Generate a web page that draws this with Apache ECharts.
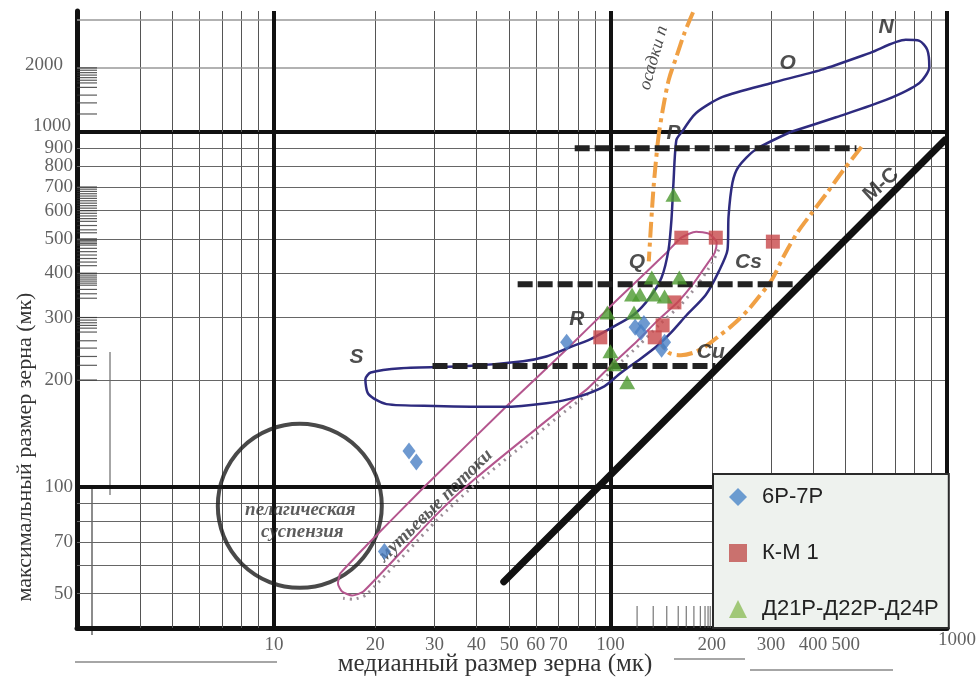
<!DOCTYPE html>
<html><head><meta charset="utf-8">
<script src="https://cdn.jsdelivr.net/npm/echarts@6/dist/echarts.min.js"></script>
<style>html,body{margin:0;padding:0;background:#fff}#c{width:977px;height:682px}</style>
</head><body><div id="c"></div><script>
// ---------- axis ranges ----------
const X_MIN = 2.6, X_MAX = 1000;
const Y_MIN = 40, Y_MAX = 1000, YT_MAX = 3700;

// ---------- tick labels ----------
const xTickLabels = [10, 20, 30, 40, 50, 60, 70, 100, 200, 300, 400, 500, 1000];
const yTickLabelsMain = [1000, 900, 800, 700, 600, 500, 400, 300, 200, 100, 70, 50];
const yTickLabelsTop = [2000];

// ---------- grid lines ----------
const xGridThin = [4, 5, 6, 7, 8, 9, 20, 30, 40, 50, 60, 70, 80, 90, 200, 300, 400, 500, 600, 700, 800, 900];
const xGridThick = [10, 100, 1000];
const yGridThinMain = [50, 60, 70, 80, 90, 200, 300, 400, 500, 600, 700, 800, 900];
const yGridThickMain = [100, 1000];
const yGridThinTop = [2000, 3350];

// ruler-like tick marks of the scanned paper
const rulerYMain = [700,690,680,670,660,650,640,630,620,610,600,590,580,570,560,545,530,520,500,495,490,485,480,470,460,450,440,430,420,400,395,390,385,380,375,370,360,350,340,300,295,290,285,280,273,258,246,233,220,200];
const rulerYTop = [2000,1950,1900,1850,1800,1750,1700,1620,1490,1370,1215];
const rulerXBottom = [120,134,147,159,168,177,185,191,195,198];

// ---------- sample points ----------
const pts6P7P = [[74.1,255.5],[25.2,126.2],[26.5,117.5],[21.3,65.7],[118.4,281.5],[125.7,288.8],[123.2,272.5],[144.8,255.5],[141.9,244.1]];
const ptsKM1 = [[93.3,263.8],[162.4,503.7],[205.6,503.7],[303.8,490.9],[154.9,330.9],[142.9,285.1],[135.4,263.8]];
const ptsD21 = [[153.9,665],[97.9,310],[117.5,310],[115.9,348.4],[122.4,348.4],[132.7,388.9],[134.5,348.4],[144.8,344],[160.2,388.9],[100,241],[102.7,221.6],[112.1,197.2]];

// ---------- field outlines ----------
const blueLoopMain = [[163.1,1000],[157.0,949.5],[153.9,719],[151.8,566],[148.8,466],[141.9,388.9],[130.9,341.8],[117.5,306],[101.3,281.5],[87.0,260.4],[75.7,247.4],[64.5,233],[55.0,226],[37.8,219],[23.9,216],[19.4,210],[18.7,201],[19.1,182.5],[21.6,171],[30.0,169],[47.8,168],[64.5,172],[79.5,179],[95.9,192],[107.0,209],[122.4,229],[137.3,249],[151.8,273],[168.0,304],[192.1,348],[209.7,404],[222.8,466],[224.3,577],[230.4,719],[239.9,797],[269.1,890],[342.8,1000]];
const blueLoopTop = [[163.1,1000],[179.7,1228],[215.4,1461],[301.6,1700],[422.5,1957],[591.4,2353],[753.9,2709],[828.2,2680],[873.9,2430],[886,2022],[828.2,1700],[658.6,1414],[470.5,1176],[342.8,1000]];
const orangeLeftTop = [[176,3650],[166,2922],[157,2253],[149,1757],[143,1269],[139.5,1000]];
const orangeLeftMain = [[139.5,1000],[138,919],[134.5,710],[132,548],[130,432]];
const orangeRight = [[557,908],[493,782],[440,674],[397,592],[359,520],[329,451],[302,384],[278,346],[257,316],[232,287],[210,266],[192,249],[177,239],[162,235],[150,238],[142,251]];
const dash900 = [[78.3,900],[538,900]];
const dash372 = [[53,372],[359,372]];
const dash219 = [[29.6,219],[205,219]];
const lineMC = [[48.2,54],[986,950]];
const pinkBand = [[15.72,56.95],[18.83,68.3],[28.0,100],[49.9,171.1],[74.1,244.1],[102.7,330.9],[128.3,404.3],[146.8,457.2],[162.4,503.7],[179.7,523.7],[196.1,517],[206.9,487.8],[204.2,457.2],[196.1,431.4],[177.2,376.5],[159.1,333],[137.3,292.6],[119.9,257.1],[101.3,221.6],[85.2,188.5],[72.6,168],[39.6,105.3],[30.0,82.4],[18.45,50.7],[17.08,49.4],[15.94,50.7],[15.50,53.4],[15.72,56.95]];
const pinkDots = [[209.7,466],[200.1,425.9],[180.9,369.3],[162.4,326.6],[140.0,287],[122.4,252.2],[103.4,217.3],[87.0,184.9],[74.1,164.5],[40.5,103.3],[30.6,80.8],[18.83,49.7],[17.2,48.2],[16.05,48.5]];
const pelagicCircle = [[11.94, 88.4]];

// ---------- annotations ----------
const lettersMain = [['P',153.9,994],['Q',119.9,428.6],['R',79.5,296],['S',17.6,232],['Cs',257,428.6],['Cu',198.7,239]];
const lettersTop = [['N',659,3118],['O',336,2112]];
const labelMC = ['M-C', 637, 710];
const labelTurb = ['мутьевые потоки', 30.2, 88.4];
const labelPel1 = ['пелагическая', 11.98, 86.2];
const labelPel2 = ['суспензия', 12.15, 74.7];
const labelOsad = ['осадки п', 134.5, 2228];

// ---------- helpers ----------
const SERIF = 'Liberation Serif', SANS = 'Liberation Sans';
const thin = {color:'#555', width:1, type:'solid'};
const thinH = {color:'#666', width:1, type:'solid'};
const thinTop = {color:'#999', width:1.5, type:'solid'};
const thick = {color:'#111', width:4, type:'solid'};

function gridSeries(g, xs, xsStyle, ys, ysStyle, extraX, extraXStyle, extraY, extraYStyle){
  const d = [];
  xs.forEach(v=>d.push({xAxis:v, lineStyle:xsStyle}));
  ys.forEach(v=>d.push({yAxis:v, lineStyle:ysStyle}));
  (extraX||[]).forEach(v=>d.push({xAxis:v, lineStyle:extraXStyle}));
  (extraY||[]).forEach(v=>d.push({yAxis:v, lineStyle:extraYStyle}));
  return {type:'line', xAxisIndex:g, yAxisIndex:g, data:[], silent:true, z:1,
    markLine:{silent:true, z:1, symbol:['none','none'], label:{show:false}, animation:false,
      lineStyle:{type:'solid'}, data:d}};
}
function shape(g, data, style, smooth, z){
  return {type:'line', xAxisIndex:g, yAxisIndex:g, data, showSymbol:false, symbol:'none',
    smooth: smooth||false, lineStyle: style, silent:true, z: z||4, clip:false};
}
function texts(g, items, lbl){
  return {type:'scatter', xAxisIndex:g, yAxisIndex:g, symbolSize:0, silent:true, clip:false, z:9,
    data: items.map(it=>({name:it[0], value:[it[1], it[2]]})),
    label: Object.assign({show:true, position:'inside', formatter:'{b}'}, lbl)};
}
const tickLbl = {fontFamily:SERIF, fontSize:19, color:'#3a3a3a'};

const series = [
  // grids
  gridSeries(0, xGridThin, thin, yGridThinMain, thinH, xGridThick, thick, yGridThickMain, thick),
  gridSeries(1, xGridThin, thin, yGridThinTop, thinTop, xGridThick, thick, [], thick),
  // rulers
  {type:'scatter', xAxisIndex:0, yAxisIndex:0, silent:true, clip:false, z:2, symbol:'rect', symbolSize:[20,1.2], symbolOffset:[10,0],
    itemStyle:{color:'#333'}, data: rulerYMain.map(v=>[X_MIN, v])},
  {type:'scatter', xAxisIndex:1, yAxisIndex:1, silent:true, clip:false, z:2, symbol:'rect', symbolSize:[20,1.2], symbolOffset:[10,0],
    itemStyle:{color:'#333'}, data: rulerYTop.map(v=>[X_MIN, v])},
  {type:'scatter', xAxisIndex:0, yAxisIndex:0, silent:true, clip:false, z:2, symbol:'rect', symbolSize:[1.2,22], symbolOffset:[0,-11],
    itemStyle:{color:'#555'}, data: rulerXBottom.map(v=>[v, Y_MIN])},
  // tick labels
  {type:'scatter', xAxisIndex:0, yAxisIndex:0, symbolSize:0, silent:true, clip:false, z:9,
    data: xTickLabels.map(v=>({name:String(v), value:[v, Y_MIN], label: v===1000 ? {offset:[10,-5]} : {}})),
    label: Object.assign({show:true, position:'bottom', distance:8, formatter:'{b}'}, tickLbl)},
  {type:'scatter', xAxisIndex:0, yAxisIndex:0, symbolSize:0, silent:true, clip:false, z:9,
    data: yTickLabelsMain.map(v=>({name:String(v), value:[X_MIN, v], label: v===1000 ? {offset:[-2,-6]} : {}})),
    label: Object.assign({show:true, position:'left', distance:4, formatter:'{b}'}, tickLbl)},
  {type:'scatter', xAxisIndex:1, yAxisIndex:1, symbolSize:0, silent:true, clip:false, z:9,
    data: yTickLabelsTop.map(v=>({name:String(v), value:[X_MIN, v], label:{offset:[-10,-3]}})),
    label: Object.assign({show:true, position:'left', distance:4, formatter:'{b}'}, tickLbl)},
  // pelagic circle
  {type:'scatter', xAxisIndex:0, yAxisIndex:0, silent:true, clip:false, z:3, symbol:'circle', symbolSize:164,
    itemStyle:{color:'rgba(0,0,0,0)', borderColor:'#1b1b1b', borderWidth:4}, data: pelagicCircle},
  // turbidity band
  shape(0, pinkDots, {color:'#9c8f98', width:3, type:[2,5]}, 0.2, 4),
  shape(0, pinkBand, {color:'#b4568e', width:2}, 0.2, 5),
  // blue N-O-P-Q-R-S field
  shape(0, blueLoopMain, {color:'#2e2b7f', width:2.5}, 0.25, 5),
  shape(1, blueLoopTop, {color:'#2e2b7f', width:2.5}, 0.25, 5),
  // orange dash-dot boundaries
  shape(1, orangeLeftTop, {color:'#f0a044', width:4, type:[16,5,4,5]}, 0.3, 6),
  shape(0, orangeLeftMain, {color:'#f0a044', width:4, type:[16,5,4,5]}, 0.3, 6),
  shape(0, orangeRight, {color:'#f0a044', width:4, type:[16,5,4,5]}, 0.3, 6),
  // dashed limits
  shape(0, dash900, {color:'#222', width:6, type:[15,5]}, false, 6),
  shape(0, dash372, {color:'#222', width:6, type:[15,5]}, false, 6),
  shape(0, dash219, {color:'#222', width:6, type:[15,5]}, false, 6),
  // C=M line
  shape(0, lineMC, {color:'#111', width:7, cap:'round'}, false, 6),
  // annotations
  texts(0, lettersMain, {fontFamily:SANS, fontStyle:'italic', fontWeight:'bold', fontSize:21, color:'#222'}),
  texts(1, lettersTop, {fontFamily:SANS, fontStyle:'italic', fontWeight:'bold', fontSize:21, color:'#222'}),
  texts(0, [labelMC], {fontFamily:SANS, fontWeight:'bold', fontSize:21, color:'#222', rotate:42}),
  texts(0, [labelTurb], {fontFamily:SERIF, fontStyle:'italic', fontWeight:'bold', fontSize:19, color:'#333', rotate:44.5}),
  texts(0, [labelPel1, labelPel2], {fontFamily:SERIF, fontStyle:'italic', fontWeight:'bold', fontSize:19, color:'#333'}),
  texts(1, [labelOsad], {fontFamily:SERIF, fontStyle:'italic', fontSize:18, color:'#222', rotate:74}),
  // data points
  {type:'scatter', name:'6Р-7Р', xAxisIndex:0, yAxisIndex:0, z:10, symbol:'diamond', symbolSize:[13,17],
    itemStyle:{color:'#4a80c4'}, data: pts6P7P},
  {type:'scatter', name:'К-М 1', xAxisIndex:0, yAxisIndex:0, z:10, symbol:'rect', symbolSize:14,
    itemStyle:{color:'#c8474a'}, data: ptsKM1},
  {type:'scatter', name:'Д21Р-Д22Р-Д24Р', xAxisIndex:0, yAxisIndex:0, z:10, symbol:'triangle', symbolSize:[16,14],
    itemStyle:{color:'#4c9a30'}, data: ptsD21}
];

const axisCommon = {type:'log', logBase:10, axisLabel:{show:false}, axisTick:{show:false}, splitLine:{show:false}, minorSplitLine:{show:false}};
const option = {
  animation:false,
  backgroundColor:'#ffffff',
  grid:[
    {left:77, right:30, top:132, bottom:54, outerBoundsMode:'none'},
    {left:77, right:30, top:11, height:121, outerBoundsMode:'none'}
  ],
  xAxis:[
    Object.assign({}, axisCommon, {gridIndex:0, min:X_MIN, max:X_MAX, axisLine:{show:true, lineStyle:{color:'#111', width:5}}}),
    Object.assign({}, axisCommon, {gridIndex:1, min:X_MIN, max:X_MAX, axisLine:{show:false}})
  ],
  yAxis:[
    Object.assign({}, axisCommon, {gridIndex:0, min:Y_MIN, max:Y_MAX, axisLine:{show:true, lineStyle:{color:'#111', width:5}}}),
    Object.assign({}, axisCommon, {gridIndex:1, min:Y_MAX, max:YT_MAX, axisLine:{show:true, lineStyle:{color:'#111', width:5}}})
  ],
  legend:{
    orient:'vertical', left:713, top:474, padding:[12,10,8,16], itemGap:34, itemWidth:18, itemHeight:18,
    backgroundColor:'#eef2ee', borderColor:'#2a2a2a', borderWidth:2, borderRadius:0,
    textStyle:{fontFamily:SANS, fontSize:22, color:'#222', padding:[0,0,0,10]},
    selectedMode:false,
    data:[
      {name:'6Р-7Р', icon:'diamond', itemStyle:{color:'#4a86c8'}},
      {name:'К-М 1', icon:'rect', itemStyle:{color:'#c0504d'}},
      {name:'Д21Р-Д22Р-Д24Р', icon:'triangle', itemStyle:{color:'#8dbd5a'}}
    ]
  },
  graphic:[
    {type:'text', x:25, y:447, rotation:Math.PI/2, silent:true,
      style:{text:'максимальный размер зерна (мк)', font:'22px "Liberation Serif"', fill:'#333', align:'center', verticalAlign:'middle'}},
    {type:'text', x:495, y:664, silent:true,
      style:{text:'медианный размер зерна (мк)', font:'25px "Liberation Serif"', fill:'#333', align:'center', verticalAlign:'middle'}},
    {type:'line', silent:true, shape:{x1:75, y1:662, x2:277, y2:662}, style:{stroke:'#888', lineWidth:1.5}},
    {type:'line', silent:true, shape:{x1:674, y1:659, x2:745, y2:659}, style:{stroke:'#888', lineWidth:1.5}},
    {type:'line', silent:true, shape:{x1:750, y1:670, x2:893, y2:670}, style:{stroke:'#888', lineWidth:1.5}},
    {type:'line', silent:true, shape:{x1:92, y1:488, x2:92, y2:635}, style:{stroke:'#666', lineWidth:1.5}},
    {type:'line', silent:true, shape:{x1:110, y1:352, x2:110, y2:495}, style:{stroke:'#888', lineWidth:1.5}}
  ],
  series: series
};
const chart = echarts.init(document.getElementById('c'), null, {renderer:'canvas'});
chart.setOption(option);
</script></body></html>
